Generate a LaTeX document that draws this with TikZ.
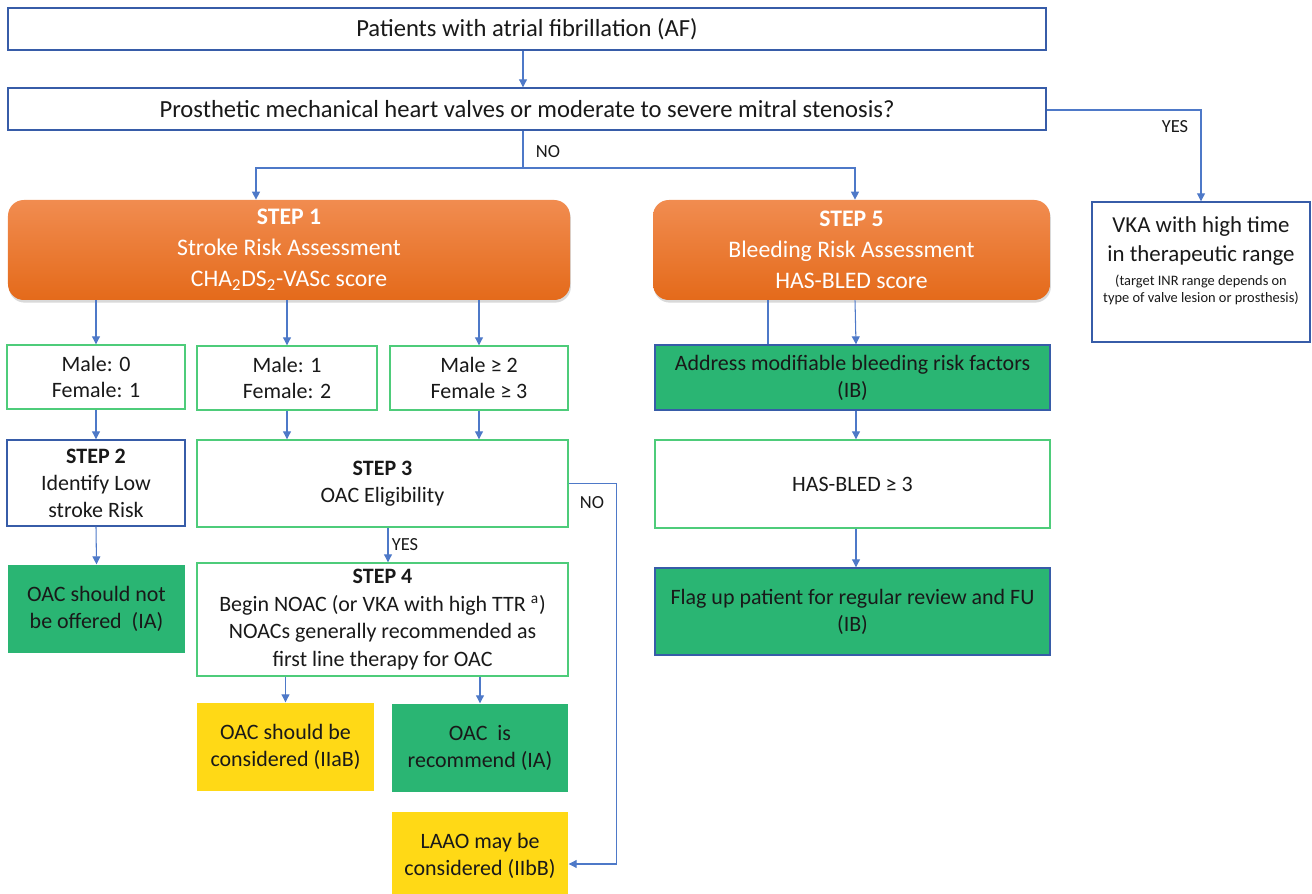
\documentclass[tikz,border=0pt]{standalone}
\usepackage{fontspec}
\setmainfont{Carlito}
\usetikzlibrary{arrows.meta,shadows}
\definecolor{lineblue}{RGB}{78,121,200}
\definecolor{edgeblue}{RGB}{55,92,168}
\definecolor{edgegreen}{RGB}{78,204,122}
\definecolor{fillgreen}{RGB}{42,181,115}
\definecolor{fillyellow}{RGB}{255,217,22}
\definecolor{orangetop}{RGB}{241,140,80}
\definecolor{orangebot}{RGB}{228,106,26}
\definecolor{txt}{RGB}{25,25,25}
\begin{document}
\begin{tikzpicture}[font=\fontsize{12.5}{15.3}\selectfont,
		box/.style={draw=edgeblue,line width=0.8pt,fill=white,text=txt,align=center,inner sep=1pt},
		gbox/.style={box,draw=edgegreen},
		okbox/.style={box,fill=fillgreen},
		goodbox/.style={box,draw=none,fill=fillgreen},
		maybebox/.style={box,draw=none,fill=fillyellow},
		stepbox/.style={rounded corners=9pt,top color=orangetop,bottom color=orangebot,text=white,align=center,
			minimum height=2cm,font=\fontsize{13.5}{17.6}\selectfont,
			drop shadow={opacity=0.3,shadow xshift=0.5pt,shadow yshift=-1.5pt}},
		wide/.style={minimum width=20.76cm,minimum height=0.84cm,font=\fontsize{14}{17}\selectfont},
		line/.style={draw=lineblue,line width=0.6pt},
		arr/.style={line,-{Triangle[length=4.5pt,width=4.5pt]}},
		lbl/.style={text=txt,font=\fontsize{10.5}{12}\selectfont}]
	\useasboundingbox (0,0) rectangle (26.24,-17.88);
	\def\vkasmall{\fontsize{8.2}{9.6}\selectfont}
	\node[box,wide] (af) at (10.54,-0.58) {Patients with atrial fibrillation (AF)};
	\node[box,wide] (valve) at (10.54,-2.18) {Prosthetic mechanical heart valves or moderate to severe mitral stenosis?};
	\node[stepbox,minimum width=11.24cm] (step1) at (5.78,-5.0) {\textbf{STEP 1}\\Stroke Risk Assessment\\CHA\textsubscript{2}DS\textsubscript{2}-VASc score};
	\node[stepbox,minimum width=7.94cm] (step5) at (17.03,-5.0) {\textbf{STEP 5}\\Bleeding Risk Assessment\\HAS-BLED score};
	\node[box,minimum width=4.36cm,minimum height=2.8cm] (vka) at (24.02,-5.44) {};
	\node[text=txt,align=center,font=\fontsize{13}{16.4}\selectfont] (vkatext) at ([yshift=0.22cm]vka.center)
		{VKA with high time\\in therapeutic range\\[-2.8pt]{\vkasmall (target INR range depends on}\\[-6.8pt]{\vkasmall type of valve lesion or prosthesis)}};
	\node[gbox,minimum width=3.56cm,minimum height=1.28cm] (m0) at (1.92,-7.54) {Male: 0\\Female: 1};
	\node[gbox,minimum width=3.6cm,minimum height=1.28cm] (m1) at (5.74,-7.56) {Male: 1\\Female: 2};
	\node[gbox,minimum width=3.56cm,minimum height=1.28cm] (m2) at (9.58,-7.56) {Male ≥ 2\\Female ≥ 3};
	\node[box,minimum width=3.56cm,minimum height=1.72cm] (step2) at (1.92,-9.66) {\textbf{STEP 2}\\Identify Low\\stroke Risk};
	\node[gbox,minimum width=7.42cm,minimum height=1.74cm] (step3) at (7.65,-9.67) {\textbf{STEP 3}\\OAC Eligibility};
	\node[gbox,minimum width=7.42cm,minimum height=2.26cm,font=\fontsize{12.5}{15.8}\selectfont] (step4) at (7.65,-12.39)
		{\textbf{STEP 4}\\Begin NOAC (or VKA with high TTR \textsuperscript{a})\\NOACs generally recommended as\\first line therapy for OAC};
	\node[goodbox,minimum width=3.54cm,minimum height=1.76cm] (nooac) at (1.93,-12.18) {OAC should not\\be offered\ \ (IA)};
	\node[maybebox,minimum width=3.54cm,minimum height=1.76cm] (iiab) at (5.71,-14.94) {OAC should be\\considered (IIaB)};
	\node[goodbox,minimum width=3.52cm,minimum height=1.76cm] (ia) at (9.60,-14.96) {OAC\ \ is\\recommend (IA)};
	\node[maybebox,minimum width=3.52cm,minimum height=1.76cm] (laao) at (9.60,-17.12) {LAAO may be\\considered (IIbB)};
	\node[okbox,minimum width=7.9cm,minimum height=1.3cm] (addr) at (17.05,-7.55) {Address modifiable bleeding risk factors\\(IB)};
	\node[gbox,minimum width=7.9cm,minimum height=1.76cm] (hasbled) at (17.05,-9.68) {HAS-BLED ≥ 3};
	\node[okbox,minimum width=7.9cm,minimum height=1.74cm] (flag) at (17.05,-12.23) {Flag up patient for regular review and FU\\(IB)};
	\coordinate (split) at (10.46,-3.36);
	\draw[arr] (af.south -| split) -- (valve.north -| split);
	\draw[line] (valve.south -| split) -- (split);
	\draw[arr] (split) -| ([xshift=-0.66cm]step1.north);
	\draw[arr] (split) -| ([xshift=0.07cm]step5.north);
	\draw[arr] ([yshift=-0.02cm]valve.east) -| (vka.north);
	\node[lbl] (nolbl) at (10.96,-3.04) {NO};
	\node[lbl] (yeslbl) at (23.5,-2.54) {YES};
	\draw[arr] (step1.south -| m0.north) -- (m0.north);
	\draw[arr] (step1.south -| m1.north) -- (m1.north);
	\draw[arr] (step1.south -| m2.north) -- (m2.north);
	\draw[arr] (m0.south) -- (step2.north);
	\draw[arr] (m1.south) -- (m1.south |- step3.north);
	\draw[arr] (m2.south) -- (m2.south |- step3.north);
	\draw[arr] ([xshift=0.11cm]step3.south) -- ([xshift=0.11cm]step4.north);
	\node[lbl] (yes2lbl) at (8.1,-10.9) {YES};
	\draw[arr] (step3.east) -- ++(0.96,0) |- ([yshift=-0.16cm]laao.east);
	\node[lbl] (no2lbl) at (11.84,-10.06) {NO};
	\draw[arr] (m0.south |- step2.south) -- (nooac.north);
	\draw[arr] (step4.south -| iiab.north) -- (iiab.north);
	\draw[arr] (step4.south -| ia.north) -- (ia.north);
	\draw[line] ([xshift=-1.67cm]step5.south) -- ([xshift=-1.67cm]step5.south |- addr.north);
	\draw[arr] ([xshift=0.07cm]step5.south) -- ([xshift=0.07cm]addr.north);
	\draw[arr] ([xshift=0.07cm]addr.south) -- ([xshift=0.07cm]hasbled.north);
	\draw[arr] ([xshift=0.07cm]hasbled.south) -- ([xshift=0.07cm]flag.north);
\end{tikzpicture}
\end{document}
